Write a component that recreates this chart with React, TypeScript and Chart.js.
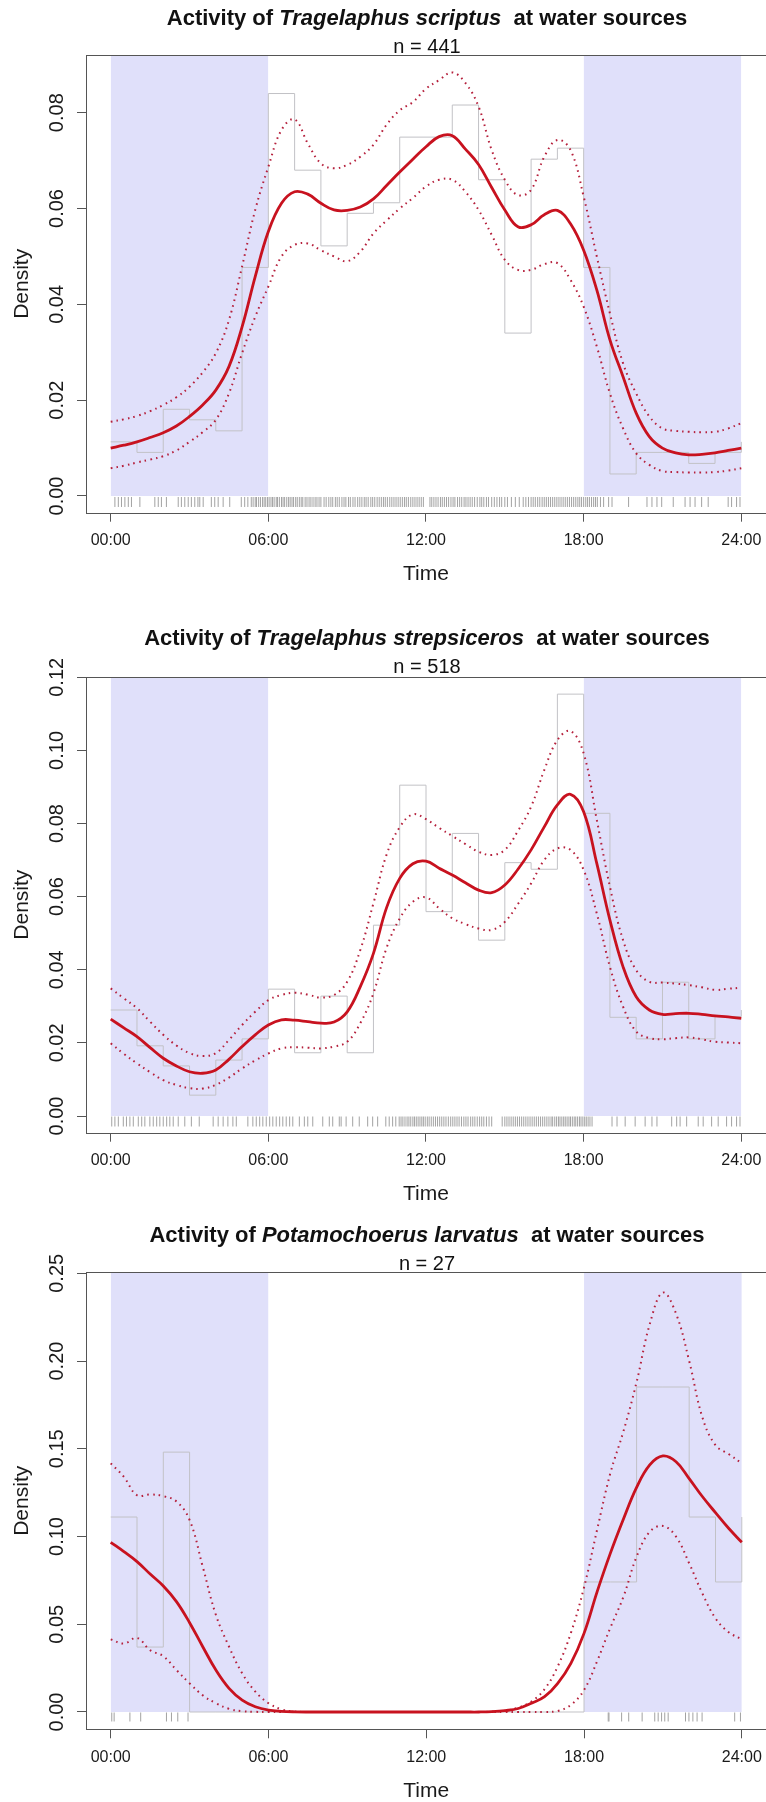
import React, { useEffect, useRef } from "react";
import { Chart, registerables } from "chart.js";

Chart.register(...registerables);

// ---------- data ----------
const HOURS = [0, 0.5, 1, 1.5, 2, 2.5, 3, 3.5, 4, 4.5, 5, 5.5, 6, 6.5, 7, 7.5, 8, 8.5, 9, 9.5, 10, 10.5, 11, 11.5, 12, 12.5, 13, 13.5, 14, 14.5, 15, 15.5, 16, 16.5, 17, 17.5, 18, 18.5, 19, 19.5, 20, 20.5, 21, 21.5, 22, 22.5, 23, 23.5, 24];
const HIST_EDGES = [0, 1, 2, 3, 4, 5, 6, 7, 8, 9, 10, 11, 12, 13, 14, 15, 16, 17, 18, 19, 20, 21, 22, 23, 24];
const X_TICKS = [0, 6, 12, 18, 24];
const X_TICK_LABELS = ["00:00", "06:00", "12:00", "18:00", "24:00"];
const NIGHT_START = [0, 18];
const NIGHT_END = [6, 24];

// Panel 1 : Tragelaphus scriptus
const p1Density = [0.0100, 0.0106, 0.0113, 0.0122, 0.0132, 0.0146, 0.0166, 0.0190, 0.0221, 0.0270, 0.0353, 0.0458, 0.0552, 0.0611, 0.0635, 0.0630, 0.0611, 0.0597, 0.0596, 0.0603, 0.0620, 0.0648, 0.0676, 0.0703, 0.0729, 0.0750, 0.0752, 0.0724, 0.0692, 0.0644, 0.0597, 0.0562, 0.0566, 0.0587, 0.0596, 0.0568, 0.0513, 0.0430, 0.0326, 0.0249, 0.0173, 0.0124, 0.0100, 0.0090, 0.0086, 0.0087, 0.0090, 0.0095, 0.0100];
const p1Upper = [0.0155, 0.0160, 0.0167, 0.0177, 0.0190, 0.0206, 0.0228, 0.0258, 0.0298, 0.0367, 0.0479, 0.0597, 0.0687, 0.0764, 0.0786, 0.0736, 0.0694, 0.0684, 0.0691, 0.0708, 0.0733, 0.0775, 0.0805, 0.0822, 0.0850, 0.0868, 0.0884, 0.0862, 0.0813, 0.0722, 0.0660, 0.0628, 0.0639, 0.0708, 0.0743, 0.0722, 0.0625, 0.0500, 0.0381, 0.0277, 0.0214, 0.0166, 0.0141, 0.0136, 0.0134, 0.0133, 0.0134, 0.0141, 0.0152];
const p1Lower = [0.0058, 0.0063, 0.0070, 0.0076, 0.0083, 0.0095, 0.0113, 0.0133, 0.0159, 0.0214, 0.0298, 0.0374, 0.0437, 0.0500, 0.0524, 0.0527, 0.0513, 0.0500, 0.0490, 0.0510, 0.0548, 0.0575, 0.0600, 0.0622, 0.0646, 0.0660, 0.0660, 0.0635, 0.0597, 0.0545, 0.0493, 0.0472, 0.0472, 0.0484, 0.0486, 0.0451, 0.0395, 0.0312, 0.0214, 0.0141, 0.0089, 0.0065, 0.0052, 0.0050, 0.0049, 0.0049, 0.0050, 0.0053, 0.0058];
const p1Hist = [0.0113, 0.0091, 0.0181, 0.0159, 0.0136, 0.0477, 0.0840, 0.0680, 0.0522, 0.0590, 0.0612, 0.0749, 0.0749, 0.0816, 0.0660, 0.0340, 0.0703, 0.0726, 0.0477, 0.0046, 0.0091, 0.0091, 0.0068, 0.0091];
const p1Rug = [0.16, 0.29, 0.41, 0.54, 0.67, 0.79, 1.11, 1.68, 1.81, 1.93, 2.12, 2.57, 2.69, 2.82, 2.95, 3.07, 3.2, 3.32, 3.39, 3.52, 3.83, 3.96, 4.09, 4.28, 4.53, 4.97, 5.10, 5.22,
  5.35, 5.42, 5.5, 5.55, 5.63, 5.7, 5.78, 5.84, 5.9, 5.97, 6.03, 6.1, 6.16, 6.22, 6.3, 6.35, 6.42, 6.5, 6.56, 6.62, 6.7, 6.77, 6.83, 6.9, 6.96, 7.04, 7.1, 7.18, 7.25, 7.31, 7.4, 7.47, 7.55, 7.62, 7.7, 7.78, 7.85, 7.93, 8.0, 8.12, 8.2, 8.3, 8.38, 8.45, 8.55, 8.62, 8.7, 8.8, 8.88, 8.95, 9.05, 9.12, 9.22, 9.3, 9.4, 9.48, 9.56, 9.65, 9.72, 9.8, 9.9, 9.97,
  10.05, 10.14, 10.22, 10.3, 10.38, 10.45, 10.53, 10.62, 10.7, 10.78, 10.86, 10.94, 11.02, 11.1, 11.18, 11.25, 11.33, 11.42, 11.5, 11.58, 11.66, 11.74, 11.82, 11.9, 12.15, 12.22, 12.3, 12.38, 12.46, 12.55, 12.62, 12.7, 12.78, 12.86, 12.95, 13.03, 13.1, 13.2, 13.28, 13.36, 13.45, 13.52, 13.6, 13.68, 13.76, 13.85, 13.95, 14.05, 14.12, 14.2, 14.3, 14.38, 14.5, 14.6, 14.7, 14.8, 14.88, 15.0, 15.1, 15.25, 15.4, 15.55, 15.7, 15.8, 15.9,
  16.0, 16.08, 16.16, 16.25, 16.33, 16.42, 16.5, 16.58, 16.66, 16.74, 16.82, 16.9, 16.98, 17.06, 17.14, 17.22, 17.3, 17.38, 17.46, 17.54, 17.62, 17.7, 17.78, 17.85, 17.92, 18.0, 18.08, 18.15, 18.22, 18.3, 18.38, 18.45, 18.52,
  18.64, 18.76, 18.95, 19.08, 19.71, 20.41, 20.6, 20.79, 20.97, 21.41, 21.86, 22.05, 22.24, 22.49, 22.74, 23.5, 23.63, 23.82, 23.95];
const p1YTicks = [0, 0.02, 0.04, 0.06, 0.08];

// Panel 2 : Tragelaphus strepsiceros
const p2Density = [0.0265, 0.0241, 0.0217, 0.0187, 0.0158, 0.0137, 0.0121, 0.0117, 0.0126, 0.0155, 0.0190, 0.0222, 0.0249, 0.0263, 0.0262, 0.0258, 0.0254, 0.0257, 0.0285, 0.0354, 0.0445, 0.0570, 0.0650, 0.0690, 0.0697, 0.0678, 0.0659, 0.0638, 0.0618, 0.0611, 0.0632, 0.0675, 0.0728, 0.0791, 0.0851, 0.0880, 0.0832, 0.0691, 0.0536, 0.0408, 0.0326, 0.0290, 0.0278, 0.0280, 0.0281, 0.0278, 0.0274, 0.0271, 0.0267];
const p2Upper = [0.0349, 0.0322, 0.0295, 0.0258, 0.0222, 0.0193, 0.0172, 0.0164, 0.0172, 0.0208, 0.0249, 0.0285, 0.0317, 0.0331, 0.0337, 0.0332, 0.0324, 0.0331, 0.0367, 0.0454, 0.0582, 0.0715, 0.0790, 0.0825, 0.0812, 0.0788, 0.0766, 0.0744, 0.0723, 0.0714, 0.0728, 0.0780, 0.0846, 0.0946, 0.1028, 0.1053, 0.0992, 0.0810, 0.0627, 0.0481, 0.0399, 0.0367, 0.0365, 0.0362, 0.0358, 0.0352, 0.0345, 0.0348, 0.0351];
const p2Lower = [0.0199, 0.0170, 0.0144, 0.0120, 0.0098, 0.0085, 0.0076, 0.0075, 0.0085, 0.0105, 0.0130, 0.0152, 0.0171, 0.0185, 0.0188, 0.0187, 0.0185, 0.0190, 0.0203, 0.0254, 0.0336, 0.0460, 0.0540, 0.0586, 0.0598, 0.0568, 0.0541, 0.0525, 0.0513, 0.0509, 0.0531, 0.0580, 0.0636, 0.0700, 0.0732, 0.0728, 0.0673, 0.0554, 0.0408, 0.0299, 0.0231, 0.0213, 0.0210, 0.0213, 0.0215, 0.0210, 0.0203, 0.0201, 0.0199];
const p2Hist = [0.0290, 0.0192, 0.0137, 0.0057, 0.0153, 0.0211, 0.0347, 0.0173, 0.0328, 0.0173, 0.0522, 0.0905, 0.0559, 0.0773, 0.0481, 0.0693, 0.0675, 0.1154, 0.0828, 0.0270, 0.0211, 0.0366, 0.0211, 0.0272];
const p2Rug = [0.04, 0.16, 0.29, 0.48, 0.6, 0.73, 0.86, 1.05, 1.18, 1.3, 1.49, 1.62, 1.75, 1.87, 2.0, 2.13, 2.25, 2.38, 2.57, 2.82, 3.07, 3.37, 3.9, 4.09, 4.28, 4.46, 4.65, 4.78, 5.22, 5.41, 5.54, 5.67, 5.79, 5.92, 6.05, 6.17, 6.3, 6.43, 6.55, 6.68, 6.81, 6.93, 7.18, 7.37, 7.5, 7.69, 8.07, 8.32, 8.45, 8.7, 8.77, 8.96, 9.21, 9.46, 9.78, 9.97, 10.16, 10.47, 10.6, 10.73, 10.85, 10.98,
  11.05, 11.12, 11.2, 11.28, 11.35, 11.42, 11.5, 11.56, 11.63, 11.7, 11.77, 11.84, 11.9, 11.97, 12.05, 12.12, 12.2, 12.28, 12.36, 12.44, 12.52, 12.6, 12.68, 12.76, 12.85, 12.94, 13.02, 13.1, 13.18, 13.26, 13.35, 13.44, 13.52, 13.6, 13.7, 13.78, 13.86, 13.95, 14.04, 14.12, 14.2, 14.3, 14.4, 14.5, 14.9, 15.0, 15.08, 15.16, 15.24, 15.32, 15.4, 15.48, 15.56, 15.64, 15.72, 15.8, 15.88, 15.96,
  16.04, 16.12, 16.2, 16.28, 16.36, 16.44, 16.52, 16.6, 16.68, 16.76, 16.82, 16.9, 16.97, 17.04, 17.1, 17.17, 17.24, 17.3, 17.37, 17.44, 17.5, 17.57, 17.64, 17.7, 17.77, 17.84, 17.9, 17.97, 18.04, 18.1, 18.17, 18.24, 18.32,
  19.08, 19.27, 19.58, 19.96, 20.34, 20.6, 20.79, 21.35, 21.54, 21.67, 21.92, 22.36, 22.55, 22.87, 23.12, 23.44, 23.63, 23.82, 23.95];
const p2YTicks = [0, 0.02, 0.04, 0.06, 0.08, 0.1, 0.12];

// Panel 3 : Potamochoerus larvatus
const p3Density = [0.0967, 0.0914, 0.0857, 0.0786, 0.0718, 0.0629, 0.0509, 0.0372, 0.0239, 0.0135, 0.0068, 0.0030, 0.0011, 0.0004, 0.0001, 0, 0, 0, 0, 0, 0, 0, 0, 0, 0, 0, 0, 0, 0, 0.0002, 0.0008, 0.0020, 0.0050, 0.0087, 0.0163, 0.0277, 0.0448, 0.0686, 0.0904, 0.1100, 0.1280, 0.1408, 0.1459, 0.1426, 0.1330, 0.1228, 0.1136, 0.1047, 0.0967];
const p3Upper = [0.1417, 0.1340, 0.1235, 0.1240, 0.1230, 0.1200, 0.1094, 0.0828, 0.0553, 0.0372, 0.0220, 0.0116, 0.0050, 0.0015, 0.0003, 0, 0, 0, 0, 0, 0, 0, 0, 0, 0, 0, 0, 0, 0, 0.0002, 0.0008, 0.0025, 0.0060, 0.0130, 0.0260, 0.0450, 0.0710, 0.1040, 0.1360, 0.1600, 0.1880, 0.2210, 0.2390, 0.2270, 0.2000, 0.1680, 0.1520, 0.1470, 0.1417];
const p3Lower = [0.0414, 0.0390, 0.0422, 0.0352, 0.0318, 0.0239, 0.0163, 0.0095, 0.0050, 0.0018, 0.0005, 0.0001, 0, 0, 0, 0, 0, 0, 0, 0, 0, 0, 0, 0, 0, 0, 0, 0, 0, 0, 0, 0, 0, 0, 0.0006, 0.0040, 0.0125, 0.0290, 0.0480, 0.0657, 0.0885, 0.1027, 0.1060, 0.0999, 0.0847, 0.0676, 0.0534, 0.0455, 0.0414];
const p3Hist = [0.1111, 0.0370, 0.1481, 0, 0, 0, 0, 0, 0, 0, 0, 0, 0, 0, 0, 0, 0, 0, 0.0741, 0.0741, 0.1852, 0.1852, 0.1111, 0.0741];
const p3Rug = [0.04, 0.13, 0.73, 1.14, 2.12, 2.31, 2.55, 2.94, 18.92, 18.95, 19.43, 19.7, 20.21, 20.69, 20.82, 20.95, 21.07, 21.2, 21.86, 21.99, 22.14, 22.3, 22.49, 23.73, 23.95];
const p3YTicks = [0, 0.05, 0.1, 0.15, 0.2, 0.25];

// ---------- styling / layout ----------
const SANS = "'Liberation Sans', Arial, sans-serif";
const TEXT = "#1a1a1a";
const AXIS = "#555555";
const SHADE = "#E0E0FA";
const HIST_COLOR = "#C2C2C6";
const RUG_COLOR = "#A2A2A2";
const MAIN = "#C8121F";
const CI = "#B5203C";
const CANVAS_W = 772;
const CANVAS_H = 600;
const PLOT_LEFT = 86;
const PLOT_RIGHT = 768.2;
const X_MIN = -0.94;
const X_MAX = 24.94;

type Panel = {
  species: string; n: number; top: number;
  areaTop: number; areaBottom: number; yMin: number; yMax: number;
  yTicks: number[]; density: number[]; upper: number[]; lower: number[];
  hist: number[]; rug: number[]; rugOffset: number; rugRadius: number;
};

const PANELS: Panel[] = [
  { species: "Tragelaphus scriptus", n: 441, top: 0, areaTop: 55, areaBottom: 512.7, yMin: -0.003486, yMax: 0.09204,
    yTicks: p1YTicks, density: p1Density, upper: p1Upper, lower: p1Lower, hist: p1Hist, rug: p1Rug, rugOffset: 6, rugRadius: 5 },
  { species: "Tragelaphus strepsiceros", n: 518, top: 620, areaTop: 56.7, areaBottom: 512.7, yMin: -0.004568, yMax: 0.12017,
    yTicks: p2YTicks, density: p2Density, upper: p2Upper, lower: p2Lower, hist: p2Hist, rug: p2Rug, rugOffset: 5.5, rugRadius: 5 },
  { species: "Potamochoerus larvatus", n: 27, top: 1217, areaTop: 55.3, areaBottom: 512.3, yMin: -0.00986, yMax: 0.25057,
    yTicks: p3YTicks, density: p3Density, upper: p3Upper, lower: p3Lower, hist: p3Hist, rug: p3Rug, rugOffset: 5, rugRadius: 4.5 },
];

const boxPlugin = {
  id: "plotBox",
  afterDraw(chart: any) {
    const { ctx, chartArea } = chart;
    ctx.save();
    ctx.strokeStyle = AXIS;
    ctx.lineWidth = 1;
    const l = Math.round(chartArea.left) + 0.5;
    const t = Math.round(chartArea.top) + 0.5;
    const r = Math.round(chartArea.right) + 0.5;
    const b = Math.round(chartArea.bottom) + 0.5;
    ctx.strokeRect(l, t, r - l, b - t);
    ctx.restore();
  },
};

function makeChart(canvas: HTMLCanvasElement, p: Panel) {
  const ppu = (p.areaBottom - p.areaTop) / (p.yMax - p.yMin);
  const rugY = -p.rugOffset / ppu;
  const pts = (xs: number[], ys: number[]) => xs.map((x, i) => ({ x, y: ys[i] }));
  const shade = NIGHT_START.map((a, i) => ({
    data: [{ x: a, y: p.yMax }, { x: NIGHT_END[i], y: p.yMax }],
    borderColor: "rgba(0,0,0,0)", borderWidth: 0, backgroundColor: SHADE,
    fill: "origin", pointRadius: 0, order: 10,
  }));
  const ciStyle = {
    borderColor: CI, borderWidth: 2, borderDash: [1.6, 4.2], pointRadius: 0,
    tension: 0.4, fill: false, order: 2,
  };
  const gridOpts = { display: true, drawOnChartArea: false, drawTicks: true, tickLength: 9, color: AXIS, lineWidth: 1 };
  return new Chart(canvas, {
    type: "line",
    data: {
      datasets: [
        ...shade,
        { data: HIST_EDGES.map((e, i) => ({ x: e, y: p.hist[i % p.hist.length] })), stepped: "before",
          borderColor: HIST_COLOR, borderWidth: 1, pointRadius: 0, fill: false, order: 8 },
        { data: p.rug.map((h) => ({ x: h, y: rugY })), showLine: false, pointStyle: "line", pointRadius: p.rugRadius,
          pointRotation: 90, pointBorderWidth: 1, pointBorderColor: RUG_COLOR, pointBackgroundColor: RUG_COLOR, order: 7 },
        { data: pts(HOURS, p.upper), ...ciStyle },
        { data: pts(HOURS, p.lower), ...ciStyle },
        { data: pts(HOURS, p.density), borderColor: MAIN, borderWidth: 2.8, pointRadius: 0,
          tension: 0.4, fill: false, order: 1 },
      ],
    } as any,
    options: {
      animation: false,
      responsive: false,
      events: [],
      layout: { padding: { top: p.areaTop, right: CANVAS_W - PLOT_RIGHT, bottom: 0, left: 0 } },
      plugins: { legend: { display: false }, tooltip: { enabled: false }, title: { display: false } },
      scales: {
        x: {
          type: "linear", min: X_MIN, max: X_MAX,
          afterBuildTicks: (s: any) => { s.ticks = X_TICKS.map((v) => ({ value: v })); },
          afterFit: (s: any) => { s.height = CANVAS_H - p.areaBottom; s.paddingLeft = 0; s.paddingRight = 0; },
          grid: gridOpts, border: { display: false },
          ticks: { autoSkip: false, maxRotation: 0, minRotation: 0, padding: 9.7, color: TEXT,
            font: { family: SANS, size: 16 },
            callback: (v: any) => X_TICK_LABELS[X_TICKS.indexOf(Number(v))] },
          title: { display: true, text: "Time", color: TEXT, font: { family: SANS, size: 21 }, padding: { top: 0, bottom: 13.5 } },
        },
        y: {
          type: "linear", min: p.yMin, max: p.yMax,
          afterBuildTicks: (s: any) => { s.ticks = p.yTicks.map((v) => ({ value: v })); },
          afterFit: (s: any) => { s.width = PLOT_LEFT; s.paddingTop = 0; s.paddingBottom = 0; },
          grid: gridOpts, border: { display: false },
          ticks: { autoSkip: false, minRotation: 90, maxRotation: 90, crossAlign: "center", padding: 0, color: TEXT,
            font: { family: SANS, size: 20 },
            callback: (v: any) => Number(v).toFixed(2) },
          title: { display: true, text: "Density", color: TEXT, font: { family: SANS, size: 21 }, padding: { top: 9.4, bottom: 0 } },
        },
      },
    } as any,
    plugins: [boxPlugin],
  });
}

export default function App() {
  const refs = [useRef<HTMLCanvasElement>(null), useRef<HTMLCanvasElement>(null), useRef<HTMLCanvasElement>(null)];
  useEffect(() => {
    const charts = PANELS.map((p, i) => makeChart(refs[i].current as HTMLCanvasElement, p));
    return () => charts.forEach((c) => c.destroy());
  }, []);

  return (
    <div style={{ position: "absolute", left: 0, top: 0, width: 766, height: 1802, overflow: "hidden", background: "#fff" }}>
      {PANELS.map((p, i) => (
        <React.Fragment key={p.species}>
          <canvas ref={refs[i]} width={CANVAS_W} height={CANVAS_H}
            style={{ position: "absolute", left: 0, top: p.top, width: CANVAS_W, height: CANVAS_H }} />
          <div style={{ position: "absolute", left: 0, width: 854, top: p.top + 7.3, textAlign: "center",
            fontFamily: SANS, fontWeight: "bold", fontSize: 22, lineHeight: "22px", whiteSpace: "pre", color: "#111" }}>
            {"Activity of "}<i>{p.species}</i>{"  at water sources"}
          </div>
          <div style={{ position: "absolute", left: 0, width: 854, top: p.top + 36.2, textAlign: "center",
            fontFamily: SANS, fontSize: 20, lineHeight: "20px", whiteSpace: "pre", color: "#111" }}>
            {"n = " + p.n}
          </div>
        </React.Fragment>
      ))}
    </div>
  );
}
